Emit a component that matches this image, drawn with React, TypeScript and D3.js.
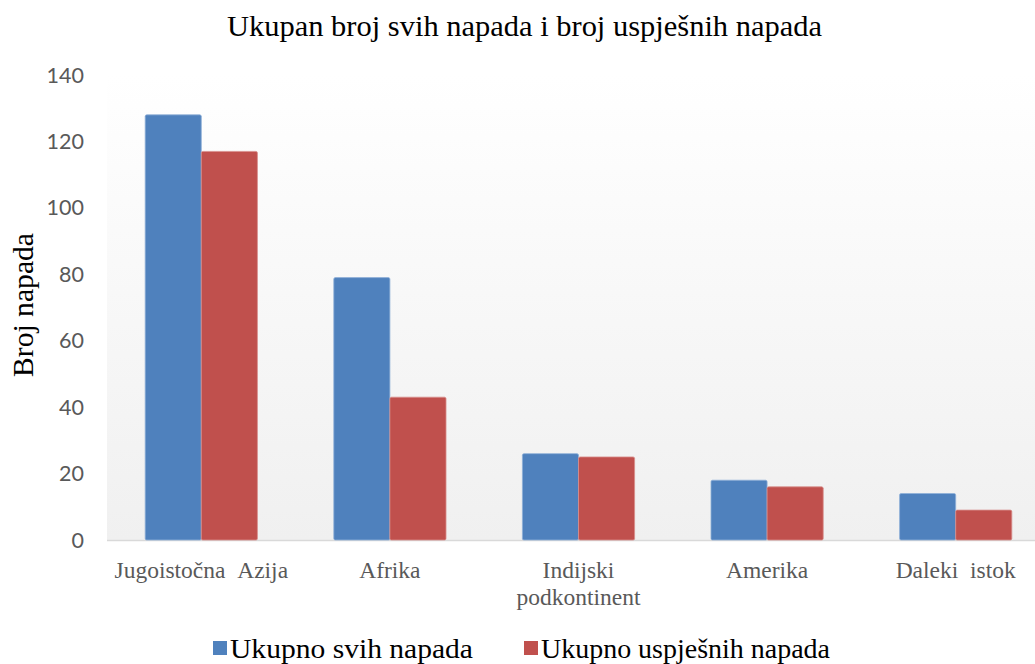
import React from "react";
import * as d3 from "d3";

const categories: string[][] = [
  ["Jugoistočna\u00a0\u00a0Azija"],
  ["Afrika"],
  ["Indijski", "podkontinent"],
  ["Amerika"],
  ["Daleki\u00a0\u00a0istok"],
];
const seriesNames = ["Ukupno svih napada", "Ukupno uspješnih napada"];
const seriesColors = ["#4F81BD", "#C0504D"];
const totalAttacks = [128, 79, 26, 18, 14];
const successfulAttacks = [117, 43, 25, 16, 9];
const yTicks = [0, 20, 40, 60, 80, 100, 120, 140];

const W = 1035;
const H = 664;
const plotLeft = 107;
const plotRight = 1050;
const plotTop = 75;
const plotBottom = 540;
const serif = "'Liberation Serif', 'Times New Roman', serif";

export default function App() {
  const x = d3
    .scaleBand<number>()
    .domain(categories.map((_, i) => i))
    .range([plotLeft, plotRight])
    .paddingInner(0.405)
    .paddingOuter(0.2025);
  const inner = d3.scaleBand<number>().domain([0, 1]).range([0, x.bandwidth()]);
  const y = d3.scaleLinear().domain([0, 140]).range([plotBottom, plotTop]);
  const series = [totalAttacks, successfulAttacks];
  const legendX = [213, 524];
  const legendLen = [243, 289];

  return (
    <svg
      width={W}
      height={H}
      style={{ position: "absolute", left: 0, top: 0, background: "#fff" }}
    >
      <defs>
        <linearGradient id="bg" x1="0" y1="0" x2="0" y2="1">
          <stop offset="0%" stopColor="#ffffff" />
          <stop offset="100%" stopColor="#f0f0f0" />
        </linearGradient>
      </defs>
      <rect
        x={plotLeft}
        y={plotTop}
        width={plotRight - plotLeft}
        height={plotBottom - plotTop}
        fill="url(#bg)"
      />
      <text
        x={227}
        y={36}
        textLength={595}
        lengthAdjust="spacingAndGlyphs"
        fontFamily={serif}
        fontSize={30}
        fill="#000"
      >
        Ukupan broj svih napada i broj uspješnih napada
      </text>
      {yTicks.map((t) => (
        <text
          key={t}
          x={84}
          y={y(t)}
          dy="0.35em"
          textAnchor="end"
          fontFamily="Lato, 'Open Sans', sans-serif"
          fontSize={21.5}
          fill="#595959"
        >
          {t}
        </text>
      ))}
      <text
        transform={`translate(33, ${377}) rotate(-90)`}
        textLength={144}
        lengthAdjust="spacingAndGlyphs"
        fontFamily={serif}
        fontSize={29}
        fill="#000"
      >
        Broj napada
      </text>
      <line
        x1={plotLeft}
        x2={plotRight}
        y1={plotBottom + 0.5}
        y2={plotBottom + 0.5}
        stroke="#d9d9d9"
        strokeWidth={1.5}
      />
      {categories.map((_, i) =>
        series.map((vals, s) => {
          const bx = (x(i) as number) + (inner(s) as number);
          const by = y(vals[i]);
          return (
            <rect
              key={`${i}-${s}`}
              x={bx}
              y={by}
              width={inner.bandwidth()}
              height={plotBottom - by}
              rx={1.5}
              fill={seriesColors[s]}
              stroke={s === 0 ? "#8fb0d8" : "#d88e8c"}
              strokeWidth={0.8}
            />
          );
        })
      )}
      {categories.map((lines, i) => (
        <text
          key={i}
          x={(x(i) as number) + x.bandwidth() / 2}
          y={578}
          textAnchor="middle"
          fontFamily={serif}
          fontSize={23.5}
          fill="#595959"
        >
          {lines.map((l, j) => (
            <tspan key={j} x={(x(i) as number) + x.bandwidth() / 2} dy={j === 0 ? 0 : 27}>
              {l}
            </tspan>
          ))}
        </text>
      ))}
      {seriesNames.map((name, s) => {
        const lx = legendX[s];
        return (
          <g key={name}>
            <rect x={lx} y={641} width={14} height={14} fill={seriesColors[s]} />
            <text
              x={lx + 17}
              y={658}
              textLength={legendLen[s]}
              lengthAdjust="spacingAndGlyphs"
              fontFamily={serif}
              fontSize={28}
              fill="#000"
            >
              {name}
            </text>
          </g>
        );
      })}
    </svg>
  );
}
